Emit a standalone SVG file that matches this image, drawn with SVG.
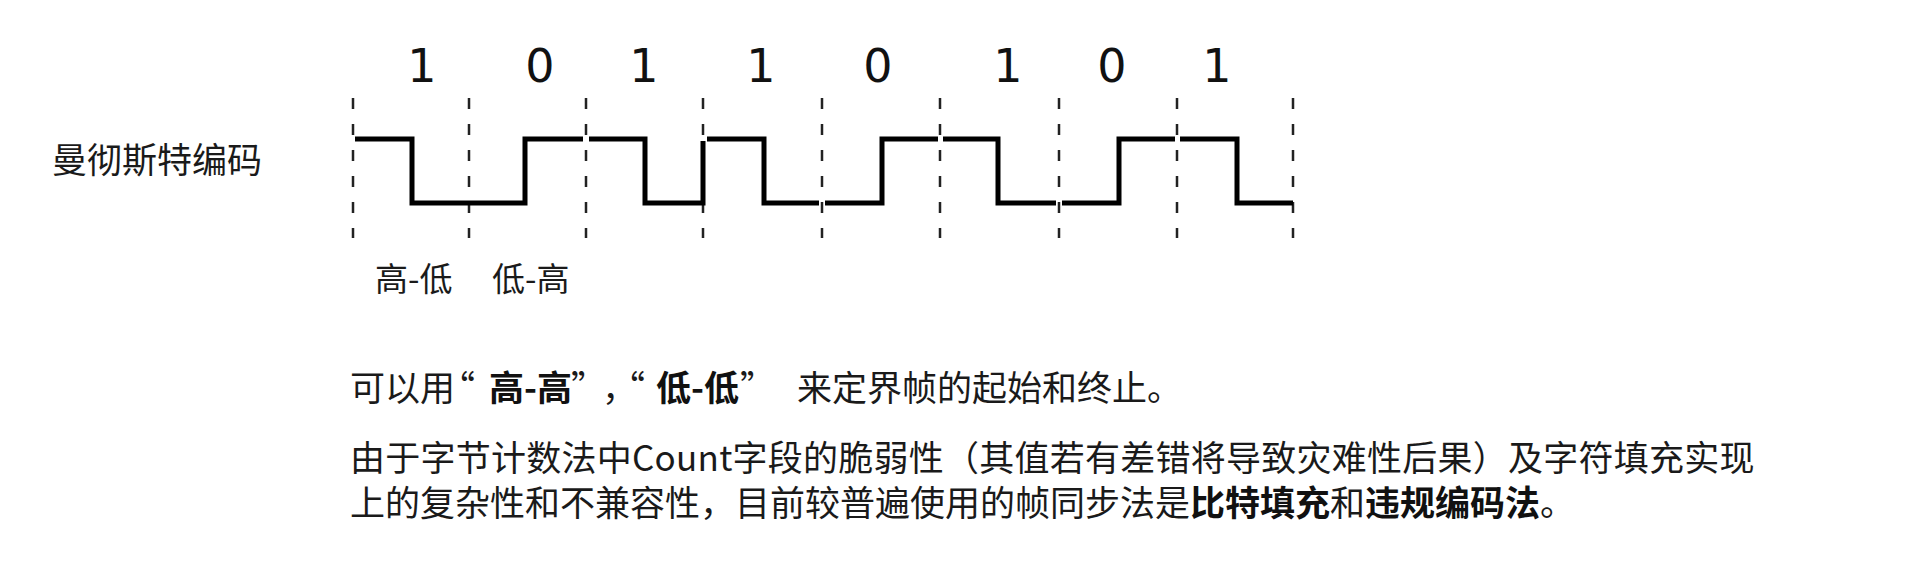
<svg xmlns="http://www.w3.org/2000/svg" width="1920" height="588" viewBox="0 0 1920 588">
<style>
.cjk{font-family:"Noto Sans CJK SC","Noto Sans",sans-serif;fill:#1a1a1a}
.bit{font-family:"DejaVu Sans","Noto Sans",sans-serif;font-size:46px;fill:#111;text-anchor:middle}
.dash{stroke:#222;stroke-width:2.5;stroke-dasharray:11 15;fill:none}
.wave{stroke:#000;stroke-width:5;fill:none;stroke-linejoin:miter;stroke-linecap:butt}
.b{font-weight:bold;fill:#111}
</style>
<rect width="1920" height="588" fill="#ffffff"/>
<g id="bits">
<text class="bit" x="422" y="82">1</text>
<text class="bit" x="540" y="82">0</text>
<text class="bit" x="644" y="82">1</text>
<text class="bit" x="761" y="82">1</text>
<text class="bit" x="878" y="82">0</text>
<text class="bit" x="1008" y="82">1</text>
<text class="bit" x="1112" y="82">0</text>
<text class="bit" x="1217" y="82">1</text>
</g>
<g id="boundaries">
<line class="dash" x1="353" y1="98" x2="353" y2="238"/>
<line class="dash" x1="469" y1="98" x2="469" y2="238"/>
<line class="dash" x1="586" y1="98" x2="586" y2="238"/>
<line class="dash" x1="703" y1="98" x2="703" y2="238"/>
<line class="dash" x1="822" y1="98" x2="822" y2="238"/>
<line class="dash" x1="940" y1="98" x2="940" y2="238"/>
<line class="dash" x1="1059" y1="98" x2="1059" y2="238"/>
<line class="dash" x1="1177" y1="98" x2="1177" y2="238"/>
<line class="dash" x1="1293" y1="98" x2="1293" y2="238"/>
</g>
<g id="waveform">
<path class="wave" d="M355 139 H412 V203 H525 V139 H583"/>
<path class="wave" d="M589 139 H645 V203 H703 V141"/>
<path class="wave" d="M707 139 H764 V203 H819"/>
<path class="wave" d="M825 203 H882 V139 H938"/>
<path class="wave" d="M943 139 H998 V203 H1056"/>
<path class="wave" d="M1062 203 H1119 V139 H1175"/>
<path class="wave" d="M1180 139 H1237 V203 H1293"/>
</g>
<g id="label-manchester">
<text class="cjk" x="52" y="173" font-size="35">曼彻斯特编码</text>
</g>
<g id="label-hl">
<text class="cjk" x="375" y="291" font-size="33">高-低</text>
</g>
<g id="label-lh">
<text class="cjk" x="492" y="291" font-size="33">低-高</text>
</g>
<g id="notes">
<text class="cjk" y="401" font-size="35"><tspan x="350">可以用</tspan><tspan x="440">“</tspan><tspan class="b" x="489">高-高</tspan><tspan x="571">”</tspan><tspan x="602">，</tspan><tspan x="610">“</tspan><tspan class="b" x="656">低-低</tspan><tspan x="740">”</tspan><tspan x="797">来定界帧的起始和终止。</tspan></text>
<text class="cjk" x="350" y="471" font-size="35" letter-spacing="0.25">由于字节计数法中Count字段的脆弱性（其值若有差错将导致灾难性后果）及字符填充实现</text>
<text class="cjk" x="350" y="516" font-size="35">上的复杂性和不兼容性，目前较普遍使用的帧同步法是<tspan class="b">比特填充</tspan>和<tspan class="b">违规编码法</tspan>。</text>
</g>
</svg>
